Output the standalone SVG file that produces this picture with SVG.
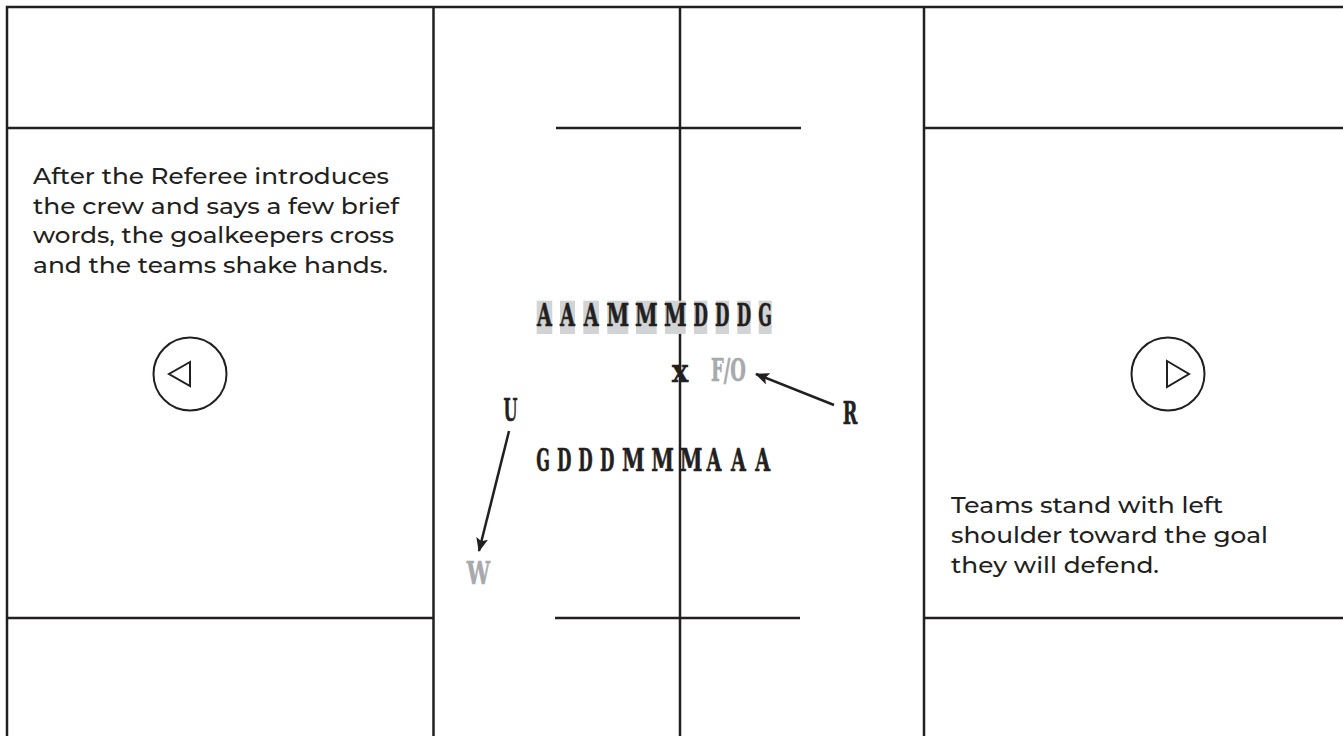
<svg xmlns="http://www.w3.org/2000/svg" width="1343" height="736" viewBox="0 0 1343 736">
<defs>
<style>
.ln{stroke:#231f20;stroke-width:2.5;fill:none}
.desc{font-family:"Montserrat","Open Sans","Noto Sans",sans-serif;font-size:22px;font-weight:500;fill:#231f20}
.pl{font-family:"DejaVu Serif","Liberation Serif",serif;font-weight:bold;font-size:32px;fill:#231f20;stroke:#231f20;stroke-width:0.6;text-anchor:middle}
.pl.gr{fill:#a7a9ac;stroke:#a7a9ac}
.box{fill:#d1d3d4}
.btn{stroke:#231f20;stroke-width:2;fill:none}
.arr{stroke:#231f20;stroke-width:2.5;fill:none}
</style>
<marker id="ah" viewBox="0 0 14 12" refX="13" refY="6" markerWidth="14" markerHeight="12" markerUnits="userSpaceOnUse" orient="auto">
<path d="M0,0 L14,6 L0,12 L3,6 Z" fill="#231f20"/>
</marker>
</defs>
<rect width="1343" height="736" fill="#ffffff"/>
<g id="field">
<path class="ln" d="M7,736 V7 H1343"/>
<path class="ln" d="M433.5,7 V736 M680,7 V736 M924,7 V736"/>
<path class="ln" d="M7,128 H433 M556,128 H801 M924,128 H1343"/>
<path class="ln" d="M7,618 H433 M555,618 H800 M924,618 H1343"/>
</g>
<g id="left-text">
<text class="desc" x="33" y="184" textLength="356" lengthAdjust="spacingAndGlyphs">After the Referee introduces</text>
<text class="desc" x="33" y="213.7" textLength="366" lengthAdjust="spacingAndGlyphs">the crew and says a few brief</text>
<text class="desc" x="33" y="243.4" textLength="361" lengthAdjust="spacingAndGlyphs">words, the goalkeepers cross</text>
<text class="desc" x="33" y="273.1" textLength="355" lengthAdjust="spacingAndGlyphs">and the teams shake hands.</text>
</g>
<g id="right-text">
<text class="desc" x="951" y="513.3" textLength="272" lengthAdjust="spacingAndGlyphs">Teams stand with left</text>
<text class="desc" x="951" y="543" textLength="317" lengthAdjust="spacingAndGlyphs">shoulder toward the goal</text>
<text class="desc" x="951" y="572.7" textLength="208" lengthAdjust="spacingAndGlyphs">they will defend.</text>
</g>
<g id="prev-button">
<circle class="btn" cx="190" cy="374" r="36.5"/>
<path class="btn" d="M190,362 L169,374 L190,386 Z"/>
</g>
<g id="next-button">
<circle class="btn" cx="1168" cy="374" r="36.5"/>
<path class="btn" d="M1167,361 L1189,374 L1167,387 Z"/>
</g>
<g id="team-top">
<rect class="box" x="536.7" y="300.7" width="15.6" height="33.3"/>
<rect class="box" x="560" y="300.7" width="15" height="33.3"/>
<rect class="box" x="583.3" y="300.7" width="15.7" height="33.3"/>
<rect class="box" x="607.3" y="300.7" width="21" height="33.3"/>
<rect class="box" x="636" y="300.7" width="20.7" height="33.3"/>
<rect class="box" x="665" y="300.7" width="20.7" height="33.3"/>
<rect class="box" x="694" y="300.7" width="13.3" height="33.3"/>
<rect class="box" x="715.7" y="300.7" width="13.3" height="33.3"/>
<rect class="box" x="737.3" y="300.7" width="13.4" height="33.3"/>
<rect class="box" x="758.7" y="300.7" width="13" height="33.3"/>
<text class="pl" transform="translate(544.5 326) scale(0.6 1)">A</text>
<text class="pl" transform="translate(567.5 326) scale(0.6 1)">A</text>
<text class="pl" transform="translate(591.2 326) scale(0.6 1)">A</text>
<text class="pl" transform="translate(617.8 326) scale(0.64 1)">M</text>
<text class="pl" transform="translate(646.3 326) scale(0.64 1)">M</text>
<text class="pl" transform="translate(675.3 326) scale(0.64 1)">M</text>
<text class="pl" transform="translate(700.7 326) scale(0.52 1)">D</text>
<text class="pl" transform="translate(722.3 326) scale(0.52 1)">D</text>
<text class="pl" transform="translate(744 326) scale(0.52 1)">D</text>
<text class="pl" transform="translate(765.2 326) scale(0.5 1)">G</text>
</g>
<g id="team-bottom">
<text class="pl" transform="translate(543 471) scale(0.5 1)">G</text>
<text class="pl" transform="translate(564.2 471) scale(0.52 1)">D</text>
<text class="pl" transform="translate(585.5 471) scale(0.52 1)">D</text>
<text class="pl" transform="translate(607.2 471) scale(0.52 1)">D</text>
<text class="pl" transform="translate(633.3 471) scale(0.64 1)">M</text>
<text class="pl" transform="translate(662.5 471) scale(0.64 1)">M</text>
<text class="pl" transform="translate(691.2 471) scale(0.64 1)">M</text>
<text class="pl" transform="translate(714 471) scale(0.6 1)">A</text>
<text class="pl" transform="translate(738.5 471) scale(0.6 1)">A</text>
<text class="pl" transform="translate(762.8 471) scale(0.6 1)">A</text>
</g>
<g id="faceoff">
<text class="pl" font-size="26" transform="translate(680 382) scale(0.85 1)">x</text>
<text class="pl gr" font-size="30" transform="translate(728.5 381) scale(0.56 1)">F/O</text>
</g>
<g id="official-U">
<text class="pl" transform="translate(510.5 421) scale(0.5 1)">U</text>
</g>
<g id="official-R">
<text class="pl" transform="translate(850 423.5) scale(0.55 1)">R</text>
</g>
<g id="official-W">
<text class="pl gr" transform="translate(478.5 584) scale(0.65 1)">W</text>
</g>
<g id="connectors">
<line class="arr" x1="509" y1="431" x2="479" y2="551" marker-end="url(#ah)"/>
<line class="arr" x1="834" y1="405" x2="756" y2="374" marker-end="url(#ah)"/>
</g>
</svg>
